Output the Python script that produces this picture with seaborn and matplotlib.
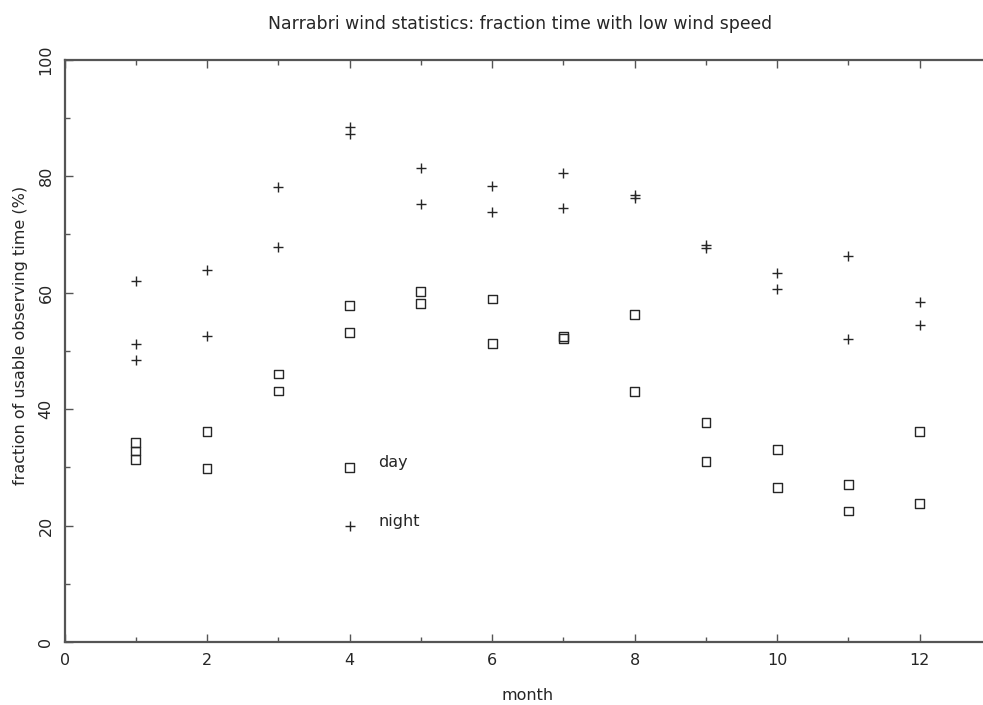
import matplotlib
matplotlib.use("Agg")
import matplotlib.pyplot as plt
from matplotlib.ticker import MultipleLocator
import numpy as np
import pandas as pd
import seaborn as sns

# Monthly fraction of usable observing time (%) with low wind speed
day_month = [1, 1, 1, 2, 2, 3, 3, 4, 4, 5, 5, 6, 6, 7, 7, 8, 8,
             9, 9, 10, 10, 11, 11, 12, 12]
day_value = [34.2, 32.8, 31.4, 36.2, 29.8, 46.0, 43.1, 57.8, 53.1,
             60.2, 58.1, 58.9, 51.2, 52.5, 52.1, 56.2, 43.0,
             37.7, 31.0, 33.0, 26.5, 27.1, 22.5, 36.2, 23.8]

night_month = [1, 1, 1, 2, 2, 3, 3, 4, 4, 5, 5, 6, 6, 7, 7, 8, 8,
               9, 9, 10, 10, 11, 11, 12, 12]
night_value = [62.0, 51.1, 48.4, 63.9, 52.5, 78.2, 67.9, 88.5, 87.2,
               81.4, 75.2, 78.3, 73.8, 80.5, 74.6, 76.7, 76.3,
               68.1, 67.6, 63.3, 60.6, 66.2, 52.1, 58.3, 54.5]

# Key entries drawn inside the plot area
key_labels = ["day", "night"]
key_month = [4, 4]
key_value = [30, 20]
key_text_month = 4.4

title = "Narrabri wind statistics: fraction time with low wind speed"
xlabel = "month"
ylabel = "fraction of usable observing time (%)"

day = pd.DataFrame({"month": day_month, "value": day_value})
night = pd.DataFrame({"month": night_month, "value": night_value})

sns.set_style("ticks")
plt.rcParams["font.family"] = ["DejaVu Sans"]
ink = "#262626"
frame = "#555555"

fig = plt.figure(figsize=(9.83, 7.05), dpi=100)
ax = fig.add_axes([0.0657, 0.0894, 0.9424, 0.826])

sns.scatterplot(data=day, x="month", y="value", ax=ax, marker="s", s=40,
                facecolors="none", edgecolors=ink, linewidths=1.0)
sns.scatterplot(data=night, x="month", y="value", ax=ax, marker="+", s=60,
                color=ink, linewidths=1.0)

# key markers and labels
sns.scatterplot(x=[key_month[0]], y=[key_value[0]], ax=ax, marker="s", s=40,
                facecolors="none", edgecolors=ink, linewidths=1.0)
sns.scatterplot(x=[key_month[1]], y=[key_value[1]], ax=ax, marker="+", s=60,
                color=ink, linewidths=1.0)
for lab, yv in zip(key_labels, key_value):
    ax.text(key_text_month, yv, lab, fontsize=11.5, color=ink,
            ha="left", va="baseline")

ax.set_xlim(0, 13)
ax.set_ylim(0, 100)
ax.xaxis.set_major_locator(MultipleLocator(2))
ax.xaxis.set_minor_locator(MultipleLocator(1))
ax.yaxis.set_major_locator(MultipleLocator(20))
ax.yaxis.set_minor_locator(MultipleLocator(10))
ax.tick_params(which="both", direction="in", top=True, right=True,
               color=frame, width=1.0, labelsize=11.5, labelcolor=ink)
ax.tick_params(which="major", length=6)
ax.tick_params(which="minor", length=3.5)
ax.tick_params(axis="x", which="major", pad=8)
ax.tick_params(axis="y", which="major", pad=8)
for lab in ax.get_yticklabels():
    lab.set_rotation(90)
    lab.set_va("center")

for sp in ax.spines.values():
    sp.set_visible(True)
    sp.set_color(frame)
    sp.set_linewidth(1.6)

ax.set_xlabel(xlabel, fontsize=11.5, color=ink, labelpad=14)
ax.set_ylabel(ylabel, fontsize=11.5, color=ink)
ax.yaxis.set_label_coords(-0.040, 0.527)
ax.set_title(title, fontsize=12.4, color=ink, pad=22, x=0.492)
ax.legend_ = None

fig.savefig("out.png", dpi=100)
